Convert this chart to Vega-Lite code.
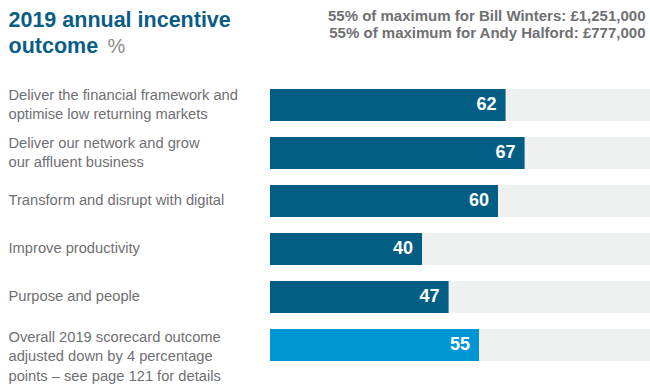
{
  "$schema": "https://vega.github.io/schema/vega-lite/v6.json",
  "autosize": {"type": "none"},
  "padding": {"left": 270, "top": 81, "right": 0, "bottom": 18},
  "width": 380,
  "height": 288,
  "background": "white",
  "config": {
    "view": {"stroke": null},
    "font": "Liberation Sans"
  },
  "data": {
    "values": [
      {"label": "Deliver the financial framework and|optimise low returning markets", "value": 62, "kind": "component"},
      {"label": "Deliver our network and grow|our affluent business", "value": 67, "kind": "component"},
      {"label": "Transform and disrupt with digital", "value": 60, "kind": "component"},
      {"label": "Improve productivity", "value": 40, "kind": "component"},
      {"label": "Purpose and people", "value": 47, "kind": "component"},
      {"label": "Overall 2019 scorecard outcome|adjusted down by 4 percentage|points – see page 121 for details", "value": 55, "kind": "overall"}
    ]
  },
  "encoding": {
    "y": {
      "field": "label",
      "type": "nominal",
      "sort": null,
      "scale": {"paddingInner": 0.3333, "paddingOuter": 0.1667},
      "axis": {
        "domain": false,
        "ticks": false,
        "grid": false,
        "labelExpr": "split(datum.value, '|')",
        "labelAlign": "left",
        "labelBaseline": "middle",
        "labelPadding": 262,
        "labelFont": "Liberation Sans",
        "labelFontSize": 14.7,
        "labelColor": "#6f7073",
        "labelLineHeight": 19.5,
        "labelLimit": 0,
        "labelOffset": {"condition": [{"test": "indexof(datum.value, 'Overall') == 0", "value": -7}, {"test": "indexof(datum.value, '|') >= 0", "value": -9.5}], "value": 0},
        "title": ["2019 annual incentive", "outcome"],
        "titleAngle": 0,
        "titleX": -262,
        "titleY": -55,
        "titleAlign": "left",
        "titleBaseline": "alphabetic",
        "titleFont": "Liberation Sans",
        "titleFontSize": 21.5,
        "titleFontWeight": "bold",
        "titleColor": "#0a5d84",
        "titleLineHeight": 26
      }
    }
  },
  "layer": [
    {
      "mark": {"type": "bar", "color": "#eff0f0"},
      "encoding": {
        "x": {
          "datum": 100,
          "type": "quantitative",
          "scale": {"domain": [0, 100], "nice": false},
          "axis": {
            "orient": "top",
            "domain": false,
            "ticks": false,
            "labels": false,
            "grid": false,
            "title": ["55% of maximum for Bill Winters: £1,251,000", "55% of maximum for Andy Halford: £777,000"],
            "titleAnchor": null,
            "titleX": 375,
            "titleY": -61,
            "titleAlign": "right",
            "titleBaseline": "alphabetic",
            "titleFont": "Liberation Sans",
            "titleFontSize": 15,
            "titleFontWeight": "bold",
            "titleColor": "#6f7073",
            "titleLineHeight": 17
          }
        }
      }
    },
    {
      "mark": {"type": "bar"},
      "encoding": {
        "x": {
          "field": "value",
          "type": "quantitative",
          "axis": {
            "orient": "bottom",
            "domain": false,
            "ticks": false,
            "labels": false,
            "grid": false,
            "title": "%",
            "titleX": -163,
            "titleY": -317,
            "titleAlign": "left",
            "titleBaseline": "alphabetic",
            "titleFont": "Liberation Sans",
            "titleFontSize": 20,
            "titleFontWeight": "normal",
            "titleColor": "#8a8c8e"
          }
        },
        "color": {
          "field": "kind",
          "type": "nominal",
          "scale": {"domain": ["component", "overall"], "range": ["#025e84", "#0095d4"]},
          "legend": null
        }
      }
    },
    {
      "mark": {"type": "text", "align": "right", "baseline": "middle", "dx": -9, "color": "white", "font": "Liberation Sans", "fontSize": 18, "fontWeight": "bold"},
      "encoding": {
        "x": {"field": "value", "type": "quantitative", "axis": null},
        "text": {"field": "value", "type": "quantitative"}
      }
    }
  ],
  "resolve": {"axis": {"x": "independent"}}
}
